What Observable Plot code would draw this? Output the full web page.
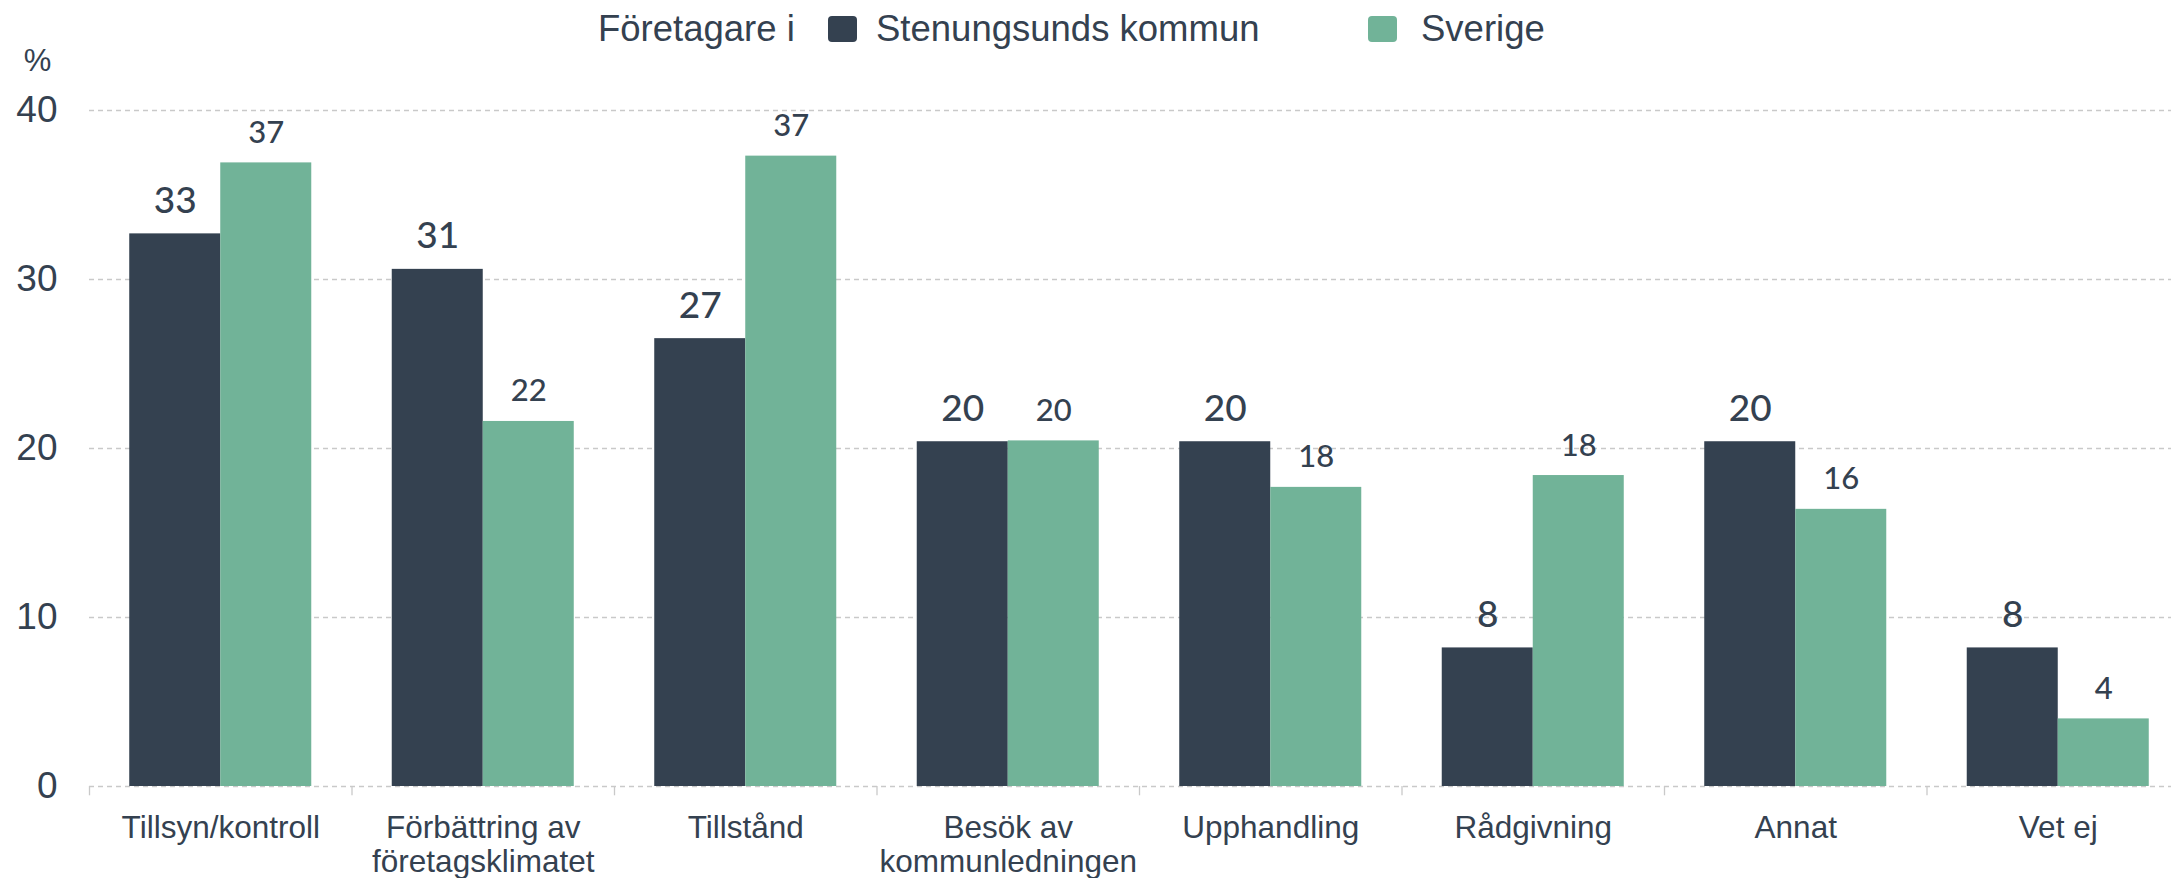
<!DOCTYPE html>
<html>
<head>
<meta charset="utf-8">
<script src="https://cdn.jsdelivr.net/npm/d3@7"></script>
<script src="https://cdn.jsdelivr.net/npm/@observablehq/plot@0.6"></script>
<style>
  html, body { margin: 0; padding: 0; background: #fff; overflow: hidden; }
  #legend { position: relative; height: 40px; width: 2171px; overflow: visible; z-index: 1; font-family: "Liberation Sans", Arial, sans-serif; font-size: 36.5px; color: #344150; }
  #legend span { position: absolute; line-height: 1; white-space: nowrap; }
  #legend .sw { width: 29px; height: 26px; border-radius: 4px; top: 16px; }
  #chart { position: relative; }
</style>
</head>
<body>
<div id="legend"></div>
<div id="chart"></div>
<script>
// ---- data ----
const categories = ["Tillsyn/kontroll", "Förbättring av\nföretagsklimatet", "Tillstånd", "Besök av\nkommunledningen", "Upphandling", "Rådgivning", "Annat", "Vet ej"];
const seriesNames = ["Stenungsunds kommun", "Sverige"];
const stenungsund = [32.7, 30.6, 26.5, 20.4, 20.4, 8.2, 20.4, 8.2];
const sverige = [36.9, 21.6, 37.3, 20.45, 17.7, 18.4, 16.4, 4.0];
const yTicks = [0, 10, 20, 30, 40];
const legendTitle = "Företagare i";
const yLabel = "%";

// ---- style ----
const colors = ["#344150", "#71b398"];
const textColor = "#344150";
const gridColor = "#c9c9c9";
const barW = 0.3467; // fraction of category step per bar

// ---- legend (HTML, above the svg) ----
const legend = document.getElementById("legend");
const legendItems = [
  {html: legendTitle, left: 598, cls: ""},
  {html: "", left: 828, cls: "sw", color: colors[0]},
  {html: seriesNames[0], left: 876, cls: ""},
  {html: "", left: 1368, cls: "sw", color: colors[1]},
  {html: seriesNames[1], left: 1421, cls: ""}
];
for (const it of legendItems) {
  const s = document.createElement("span");
  s.textContent = it.html;
  s.className = it.cls;
  s.style.left = it.left + "px";
  if (it.cls === "sw") s.style.background = it.color;
  else s.style.top = "11px";
  legend.appendChild(s);
}

// ---- table ----
const rows = [];
categories.forEach((c, i) => {
  rows.push({i, category: c, s: 0, series: seriesNames[0], value: stenungsund[i]});
  rows.push({i, category: c, s: 1, series: seriesNames[1], value: sverige[i]});
});
const boundaries = d3.range(-0.5, categories.length, 1);

const chart = Plot.plot({
  width: 2171,
  height: 838,
  marginLeft: 89,
  marginRight: -18,
  marginTop: 70,
  marginBottom: 92,
  style: {background: "transparent", color: textColor},
  x: {domain: [-0.5, categories.length - 0.5], axis: null},
  y: {domain: [0, 40], axis: null},
  color: {domain: seriesNames, range: colors},
  marks: [
    Plot.gridY(yTicks, {stroke: gridColor, strokeOpacity: 1, strokeDasharray: "5,4", strokeWidth: 1.3}),
    Plot.ruleX(boundaries, {x: d => d, y1: 0, y2: -0.55, stroke: gridColor, strokeWidth: 1.3}),
    Plot.rect(rows, {
      x1: d => d.i + (d.s === 0 ? -barW : 0),
      x2: d => d.i + (d.s === 0 ? 0 : barW),
      y1: 0,
      y2: "value",
      fill: "series"
    }),
    Plot.axisY(yTicks, {
      tickSize: 0, tickPadding: 32, fontSize: 37, fill: textColor,
      fontFamily: "'Liberation Sans', Arial, sans-serif", label: null
    }),
    Plot.axisX(d3.range(categories.length), {
      tickSize: 0, tickPadding: 28, fontSize: 31.5, lineHeight: 1.06, fill: textColor,
      fontFamily: "'Liberation Sans', Arial, sans-serif",
      tickFormat: i => categories[i], label: null
    }),
    Plot.text([yLabel], {frameAnchor: "top-left", dx: -52, dy: -49, fontSize: 31, fill: textColor,
      fontFamily: "'Liberation Sans', Arial, sans-serif", textAnchor: "middle", lineAnchor: "middle"}),
    Plot.text(rows.filter(d => d.s === 0), {
      x: d => d.i - barW / 2, y: "value", text: d => String(Math.round(d.value)),
      lineAnchor: "bottom", dy: -21, fontSize: 37, fontWeight: 500, fill: textColor,
      fontFamily: "Lato, 'Noto Sans', sans-serif"
    }),
    Plot.text(rows.filter(d => d.s === 1), {
      x: d => d.i + barW / 2, y: "value", text: d => String(Math.round(d.value)),
      lineAnchor: "bottom", dy: -20, fontSize: 31, fontWeight: 500, fill: textColor,
      fontFamily: "Lato, 'Noto Sans', sans-serif"
    })
  ]
});
document.getElementById("chart").appendChild(chart);
</script>
</body>
</html>
